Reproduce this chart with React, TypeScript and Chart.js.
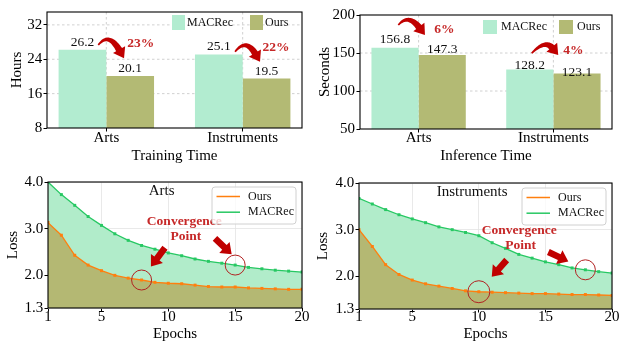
import React, { useEffect, useRef } from 'react';
import { Chart, registerables } from 'chart.js';

Chart.register(...registerables);

// ---------------- data ----------------
const categories = ['Arts', 'Instruments'];
const trainMacrec = [26.2, 25.1];
const trainOurs = [20.1, 19.5];
const trainTicks = [8, 16, 24, 32];
const trainGains = ['23%', '22%'];

const inferMacrec = [156.8, 128.2];
const inferOurs = [147.3, 123.1];
const inferTicks = [50, 100, 150, 200];
const inferGains = ['6%', '4%'];

const epochs = [1, 2, 3, 4, 5, 6, 7, 8, 9, 10, 11, 12, 13, 14, 15, 16, 17, 18, 19, 20];
const epochTicks = [1, 5, 10, 15, 20];
const lossTicks = [1.3, 2.0, 3.0, 4.0];

const artsOurs = [3.13, 2.86, 2.43, 2.22, 2.10, 2.00, 1.94, 1.90, 1.85, 1.83, 1.82, 1.79, 1.76, 1.75, 1.75, 1.73, 1.72, 1.71, 1.70, 1.70];
const artsMacrec = [4.00, 3.73, 3.50, 3.26, 3.07, 2.89, 2.75, 2.64, 2.56, 2.48, 2.42, 2.35, 2.30, 2.26, 2.22, 2.17, 2.14, 2.11, 2.09, 2.07];
const instOurs = [3.00, 2.64, 2.25, 2.04, 1.92, 1.84, 1.79, 1.74, 1.69, 1.67, 1.66, 1.65, 1.64, 1.63, 1.63, 1.62, 1.61, 1.61, 1.60, 1.59];
const instMacrec = [3.67, 3.55, 3.43, 3.32, 3.23, 3.15, 3.06, 3.00, 2.94, 2.87, 2.72, 2.60, 2.47, 2.39, 2.31, 2.25, 2.18, 2.14, 2.10, 2.07];

// ---------------- style ----------------
const FONT = "'Liberation Serif', 'Times New Roman', Times, serif";
const C_MAC_BAR = '#b2ecd0';
const C_OURS_BAR = '#b3ba74';
const C_ORANGE = '#ff7f0e';
const C_GREEN = '#27c863';
const C_FILL_GREEN = '#b1ecca';
const C_FILL_OLIVE = '#b4b873';
const RED = '#c00000';
const TEXT_RED = '#c62828';
const CIRCLE_RED = '#b22222';

type Pt = [number, number];

function px(chart: any, p: Pt): Pt {
  return [chart.scales.x.getPixelForValue(p[0]), chart.scales.y.getPixelForValue(p[1])];
}

function drawText(ctx: CanvasRenderingContext2D, s: string, x: number, y: number, font: string, color: string, align: CanvasTextAlign = 'center') {
  ctx.font = font;
  ctx.fillStyle = color;
  ctx.textAlign = align;
  ctx.textBaseline = 'middle';
  ctx.fillText(s, x, y);
}

function curvedArrow(ctx: CanvasRenderingContext2D, a: Pt, c: Pt, b: Pt, color: string) {
  const headLen = 10, headW = 14;
  let dx = b[0] - c[0], dy = b[1] - c[1];
  const L = Math.hypot(dx, dy) || 1;
  dx /= L; dy /= L;
  const base: Pt = [b[0] - dx * headLen * 0.9, b[1] - dy * headLen * 0.9];
  const N = 30;
  const left: Pt[] = [], right: Pt[] = [];
  for (let i = 0; i <= N; i++) {
    const t = i / N;
    const x = (1 - t) * (1 - t) * a[0] + 2 * (1 - t) * t * c[0] + t * t * base[0];
    const y = (1 - t) * (1 - t) * a[1] + 2 * (1 - t) * t * c[1] + t * t * base[1];
    let tx = 2 * (1 - t) * (c[0] - a[0]) + 2 * t * (base[0] - c[0]);
    let ty = 2 * (1 - t) * (c[1] - a[1]) + 2 * t * (base[1] - c[1]);
    const tl = Math.hypot(tx, ty) || 1;
    tx /= tl; ty /= tl;
    const hw = 0.8 + 2.6 * t;
    left.push([x - ty * hw, y + tx * hw]);
    right.push([x + ty * hw, y - tx * hw]);
  }
  ctx.fillStyle = color;
  ctx.beginPath();
  ctx.moveTo(left[0][0], left[0][1]);
  for (const p of left) ctx.lineTo(p[0], p[1]);
  for (let i = right.length - 1; i >= 0; i--) ctx.lineTo(right[i][0], right[i][1]);
  ctx.closePath();
  ctx.fill();
  const hb: Pt = [b[0] - dx * headLen, b[1] - dy * headLen];
  const nx = -dy, ny = dx;
  ctx.beginPath();
  ctx.moveTo(b[0], b[1]);
  ctx.lineTo(hb[0] + nx * headW / 2, hb[1] + ny * headW / 2);
  ctx.lineTo(hb[0] - nx * headW / 2, hb[1] - ny * headW / 2);
  ctx.closePath();
  ctx.fill();
}

function straightArrow(ctx: CanvasRenderingContext2D, a: Pt, b: Pt, color: string) {
  const shaftW = 6.5, headLen = 10, headW = 15;
  let dx = b[0] - a[0], dy = b[1] - a[1];
  const L = Math.hypot(dx, dy) || 1;
  dx /= L; dy /= L;
  const nx = -dy, ny = dx;
  const base: Pt = [b[0] - dx * headLen, b[1] - dy * headLen];
  ctx.fillStyle = color;
  ctx.beginPath();
  ctx.moveTo(a[0] + nx * shaftW / 2, a[1] + ny * shaftW / 2);
  ctx.lineTo(base[0] + nx * shaftW / 2, base[1] + ny * shaftW / 2);
  ctx.lineTo(base[0] + nx * headW / 2, base[1] + ny * headW / 2);
  ctx.lineTo(b[0], b[1]);
  ctx.lineTo(base[0] - nx * headW / 2, base[1] - ny * headW / 2);
  ctx.lineTo(base[0] - nx * shaftW / 2, base[1] - ny * shaftW / 2);
  ctx.lineTo(a[0] - nx * shaftW / 2, a[1] - ny * shaftW / 2);
  ctx.closePath();
  ctx.fill();
}

const TICK_FONT = { family: FONT, size: 15 };
const TITLE_FONT = { family: FONT, size: 15 };

// ---------------- bar charts ----------------
type BarCfg = {
  macrec: number[]; ours: number[]; ticks: number[]; min: number; max: number;
  yTitle: string; xTitle: string; gains: string[]; gainPos: Pt[];
  arrows: Pt[][]; lift: number[][];
  box: { yW: number; padR: number; padT: number; xH: number; xPad: number; yPad: number; yTitlePad: number; xTitlePad: number };
  legend: { xs: number[]; dy: number; w: number; h: number; tx: number; ty: number };
};

const TRAIN: BarCfg = {
  macrec: trainMacrec, ours: trainOurs, ticks: trainTicks, min: 8, max: 35,
  yTitle: 'Hours', xTitle: 'Training Time', gains: trainGains,
  gainPos: [[0.252, 27.72], [1.244, 26.69]],
  arrows: [
    [[-0.059, 27.32], [0.018, 30.42], [0.130, 24.22]],
    [[0.944, 25.76], [1.024, 28.97], [1.127, 23.43]],
  ],
  lift: [[7.8, 8.1], [7.9, 7.1]],
  box: { yW: 47, padR: 8, padT: 12, xH: 42, xPad: -2.2, yPad: 1.2, yTitlePad: 7.7, xTitlePad: 5.0 },
  legend: { xs: [130, 52], dy: 3, w: 13, h: 15, tx: 15, ty: 10.5 },
};

const INFER: BarCfg = {
  macrec: inferMacrec, ours: inferOurs, ticks: inferTicks, min: 50, max: 200,
  yTitle: 'Seconds', xTitle: 'Inference Time', gains: inferGains,
  gainPos: [[0.191, 181.2], [1.148, 153.0]],
  arrows: [
    [[-0.151, 186.8], [-0.076, 202.1], [0.047, 173.7]],
    [[0.839, 149.6], [0.938, 168.1], [1.036, 147.4]],
  ],
  lift: [[8.3, 4.4], [5.3, 0.6]],
  box: { yW: 50, padR: 9, padT: 15, xH: 41, xPad: -3.2, yPad: 1.5, yTitlePad: 6.3, xTitlePad: 5.0 },
  legend: { xs: [129, 53], dy: 5, w: 14, h: 14, tx: 18, ty: 12 },
};

function makeBar(canvas: HTMLCanvasElement, o: BarCfg) {
  const plugin = {
    id: 'barDecor',
    beforeDatasetsDraw(chart: any) {
      const ctx = chart.ctx as CanvasRenderingContext2D;
      const { left, right, top, bottom } = chart.chartArea;
      ctx.save();
      ctx.strokeStyle = '#c4c4c4';
      ctx.lineWidth = 0.8;
      ctx.setLineDash([2.5, 2.5]);
      for (const v of o.ticks) {
        const y = chart.scales.y.getPixelForValue(v);
        if (y <= top + 0.5 || y >= bottom - 0.5) continue;
        ctx.beginPath(); ctx.moveTo(left, y); ctx.lineTo(right, y); ctx.stroke();
      }
      categories.forEach((_, i) => {
        const x = chart.scales.x.getPixelForValue(i);
        ctx.beginPath(); ctx.moveTo(x, top); ctx.lineTo(x, bottom); ctx.stroke();
      });
      ctx.restore();
    },
    afterDraw(chart: any) {
      const ctx = chart.ctx as CanvasRenderingContext2D;
      const { left, right, top, bottom } = chart.chartArea;
      ctx.save();
      ctx.strokeStyle = '#000';
      ctx.lineWidth = 1.1;
      ctx.strokeRect(left, top, right - left, bottom - top);
      [o.macrec, o.ours].forEach((vals, di) => {
        const meta = chart.getDatasetMeta(di);
        meta.data.forEach((el: any, i: number) => {
          drawText(ctx, vals[i].toFixed(1), el.x, el.y - o.lift[di][i], `13.5px ${FONT}`, '#111');
        });
      });
      o.arrows.forEach((a) => curvedArrow(ctx, px(chart, a[0]), px(chart, a[1]), px(chart, a[2]), RED));
      o.gains.forEach((g, i) => {
        const p = px(chart, o.gainPos[i]);
        drawText(ctx, g, p[0], p[1], `bold 13.5px ${FONT}`, TEXT_RED);
      });
      const L = o.legend;
      const names = ['MACRec', 'Ours'];
      const cols = [C_MAC_BAR, C_OURS_BAR];
      names.forEach((n, i) => {
        const x = right - L.xs[i];
        ctx.fillStyle = cols[i];
        ctx.fillRect(x, top + L.dy, L.w, L.h);
        drawText(ctx, n, x + L.tx, top + L.ty, `12px ${FONT}`, '#111', 'left');
      });
      ctx.restore();
    },
  };

  return new Chart(canvas, {
    type: 'bar',
    data: {
      datasets: [
        { label: 'MACRec', data: o.macrec.map((v, i) => ({ x: i, y: v })), backgroundColor: C_MAC_BAR, borderWidth: 0, categoryPercentage: 0.7, barPercentage: 1.0 },
        { label: 'Ours', data: o.ours.map((v, i) => ({ x: i, y: v })), backgroundColor: C_OURS_BAR, borderWidth: 0, categoryPercentage: 0.7, barPercentage: 1.0 },
      ],
    } as any,
    options: {
      responsive: false,
      animation: false,
      devicePixelRatio: 1,
      events: [],
      layout: { padding: { left: 0, top: o.box.padT, right: o.box.padR, bottom: 0 } },
      plugins: { legend: { display: false }, tooltip: { enabled: false } },
      scales: {
        x: {
          type: 'linear', min: -0.435, max: 1.435, offset: false,
          afterBuildTicks: (s: any) => { s.ticks = categories.map((_, i) => ({ value: i })); },
          afterFit: (s: any) => { s.height = o.box.xH; },
          ticks: { callback: (v: any) => categories[v] ?? '', font: TICK_FONT, color: '#000', padding: o.box.xPad, autoSkip: false, maxRotation: 0 },
          grid: { drawOnChartArea: false, tickLength: 3.5, tickColor: '#000', tickWidth: 1, offset: false },
          border: { display: false },
          title: { display: true, text: o.xTitle, font: TITLE_FONT, color: '#000', padding: { top: 0, bottom: o.box.xTitlePad } },
        },
        y: {
          type: 'linear', min: o.min, max: o.max, beginAtZero: false,
          afterBuildTicks: (s: any) => { s.ticks = o.ticks.map((v) => ({ value: v })); },
          afterFit: (s: any) => { s.width = o.box.yW; },
          ticks: { callback: (v: any) => String(v), font: TICK_FONT, color: '#000', padding: o.box.yPad },
          grid: { drawOnChartArea: false, tickLength: 3.5, tickColor: '#000', tickWidth: 1 },
          border: { display: false },
          title: { display: true, text: o.yTitle, font: TITLE_FONT, color: '#000', padding: { top: o.box.yTitlePad, bottom: 0 } },
        },
      },
    } as any,
    plugins: [plugin],
  });
}

// ---------------- loss charts ----------------
type LossCfg = {
  title: string; ours: number[]; macrec: number[];
  titlePos: Pt; textPos: Pt; arrows: Pt[][];
  circles: { series: 'ours' | 'macrec'; idx: number; r: number }[];
  box: { yW: number; padR: number; padT: number; xH: number; xPad: number; yTitlePad: number; xTitlePad: number };
};

const ARTS: LossCfg = {
  title: 'Arts', ours: artsOurs, macrec: artsMacrec,
  titlePos: [9.5, 3.8], textPos: [11.2, 3.15],
  arrows: [[[9.75, 2.59], [8.70, 2.19]], [[13.49, 2.79], [14.74, 2.45]]],
  circles: [{ series: 'ours', idx: 7, r: 10 }, { series: 'macrec', idx: 14, r: 10 }],
  box: { yW: 48, padR: 8, padT: 12, xH: 35, xPad: -3.8, yTitlePad: 4.3, xTitlePad: 0 },
};

const INST: LossCfg = {
  title: 'Instruments', ours: instOurs, macrec: instMacrec,
  titlePos: [9.5, 3.8], textPos: [13.03, 2.98],
  arrows: [[[12.09, 2.35], [10.97, 1.99]], [[15.22, 2.52], [16.72, 2.32]]],
  circles: [{ series: 'ours', idx: 9, r: 11 }, { series: 'macrec', idx: 17, r: 10 }],
  box: { yW: 49, padR: 9, padT: 13, xH: 34, xPad: -4.2, yTitlePad: 4.3, xTitlePad: 0 },
};

function makeLoss(canvas: HTMLCanvasElement, o: LossCfg) {
  const plugin = {
    id: 'lossDecor',
    afterDraw(chart: any) {
      const ctx = chart.ctx as CanvasRenderingContext2D;
      const { left, right, top, bottom } = chart.chartArea;
      ctx.save();
      ctx.strokeStyle = '#000';
      ctx.lineWidth = 1.1;
      ctx.strokeRect(left, top, right - left, bottom - top);

      const tp = px(chart, o.titlePos);
      drawText(ctx, o.title, tp[0], tp[1], `15px ${FONT}`, '#111');

      o.circles.forEach((c) => {
        const vals = c.series === 'ours' ? o.ours : o.macrec;
        const p = px(chart, [epochs[c.idx], vals[c.idx]]);
        ctx.strokeStyle = CIRCLE_RED;
        ctx.lineWidth = 1;
        ctx.beginPath();
        ctx.arc(p[0], p[1], c.r, 0, Math.PI * 2);
        ctx.stroke();
      });

      o.arrows.forEach((a) => straightArrow(ctx, px(chart, a[0]), px(chart, a[1]), RED));

      const cp = px(chart, o.textPos);
      drawText(ctx, 'Convergence', cp[0], cp[1], `bold 13.5px ${FONT}`, TEXT_RED);
      drawText(ctx, 'Point', cp[0] + 1.5, cp[1] + 15, `bold 13.5px ${FONT}`, TEXT_RED);

      const bx = right - 90, by = top + 5, bw = 84, bh = 37;
      ctx.beginPath();
      (ctx as any).roundRect(bx, by, bw, bh, 3);
      ctx.fillStyle = 'rgba(255,255,255,0.8)';
      ctx.fill();
      ctx.strokeStyle = '#d0d0d0';
      ctx.lineWidth = 1;
      ctx.stroke();
      const items: [string, string][] = [['Ours', C_ORANGE], ['MACRec', C_GREEN]];
      items.forEach(([n, col], i) => {
        const y = by + 9.5 + i * 15.7;
        ctx.strokeStyle = col;
        ctx.lineWidth = 1.5;
        ctx.beginPath();
        ctx.moveTo(bx + 4.5, y);
        ctx.lineTo(bx + 28, y);
        ctx.stroke();
        drawText(ctx, n, bx + 36, y, `12px ${FONT}`, '#111', 'left');
      });
      ctx.restore();
    },
  };

  const common = { borderWidth: 1.3, pointStyle: 'rect', pointRadius: 2.1, pointBorderWidth: 0, tension: 0, fill: 'start' };
  return new Chart(canvas, {
    type: 'line',
    data: {
      datasets: [
        { ...common, label: 'Ours', data: epochs.map((e, i) => ({ x: e, y: o.ours[i] })), borderColor: C_ORANGE, backgroundColor: C_FILL_OLIVE, pointBackgroundColor: C_ORANGE },
        { ...common, label: 'MACRec', data: epochs.map((e, i) => ({ x: e, y: o.macrec[i] })), borderColor: C_GREEN, backgroundColor: C_FILL_GREEN, pointBackgroundColor: C_GREEN },
      ],
    } as any,
    options: {
      responsive: false,
      animation: false,
      devicePixelRatio: 1,
      events: [],
      layout: { padding: { left: 0, top: o.box.padT, right: o.box.padR, bottom: 0 } },
      plugins: { legend: { display: false }, tooltip: { enabled: false } },
      scales: {
        x: {
          type: 'linear', min: 1, max: 20,
          afterBuildTicks: (s: any) => { s.ticks = epochTicks.map((v) => ({ value: v })); },
          afterFit: (s: any) => { s.height = o.box.xH; },
          ticks: { callback: (v: any) => String(v), font: TICK_FONT, color: '#000', padding: o.box.xPad, autoSkip: false, maxRotation: 0 },
          grid: { color: '#e3e3e3', lineWidth: 0.8, tickLength: 3.5, tickColor: '#000', tickWidth: 1 },
          border: { display: false },
          title: { display: true, text: 'Epochs', font: TITLE_FONT, color: '#000', padding: { top: 0, bottom: o.box.xTitlePad } },
        },
        y: {
          type: 'linear', min: 1.3, max: 4.0,
          afterBuildTicks: (s: any) => { s.ticks = lossTicks.map((v) => ({ value: v })); },
          afterFit: (s: any) => { s.width = o.box.yW; },
          ticks: { callback: (v: any) => Number(v).toFixed(1), font: TICK_FONT, color: '#000', padding: 1.2 },
          grid: { color: '#e3e3e3', lineWidth: 0.8, tickLength: 3.5, tickColor: '#000', tickWidth: 1 },
          border: { display: false },
          title: { display: true, text: 'Loss', font: TITLE_FONT, color: '#000', padding: { top: o.box.yTitlePad, bottom: 0 } },
        },
      },
    } as any,
    plugins: [plugin],
  });
}

// ---------------- component ----------------
export default function App() {
  const r1 = useRef<HTMLCanvasElement>(null);
  const r2 = useRef<HTMLCanvasElement>(null);
  const r3 = useRef<HTMLCanvasElement>(null);
  const r4 = useRef<HTMLCanvasElement>(null);

  useEffect(() => {
    const charts = [
      makeBar(r1.current!, TRAIN),
      makeBar(r2.current!, INFER),
      makeLoss(r3.current!, ARTS),
      makeLoss(r4.current!, INST),
    ];
    return () => charts.forEach((c) => c.destroy());
  }, []);

  const cs = (l: number, t: number, w: number, h: number): React.CSSProperties => ({ position: 'absolute', left: l, top: t, width: w, height: h });

  return (
    <div style={{ position: 'fixed', left: 0, top: 0, width: 621, height: 343, background: '#fff', overflow: 'hidden' }}>
      <canvas ref={r1} width={310} height={170} style={cs(0, 0, 310, 170)} />
      <canvas ref={r2} width={311} height={170} style={cs(310, 0, 311, 170)} />
      <canvas ref={r3} width={310} height={173} style={cs(0, 170, 310, 173)} />
      <canvas ref={r4} width={311} height={173} style={cs(310, 170, 311, 173)} />
    </div>
  );
}
